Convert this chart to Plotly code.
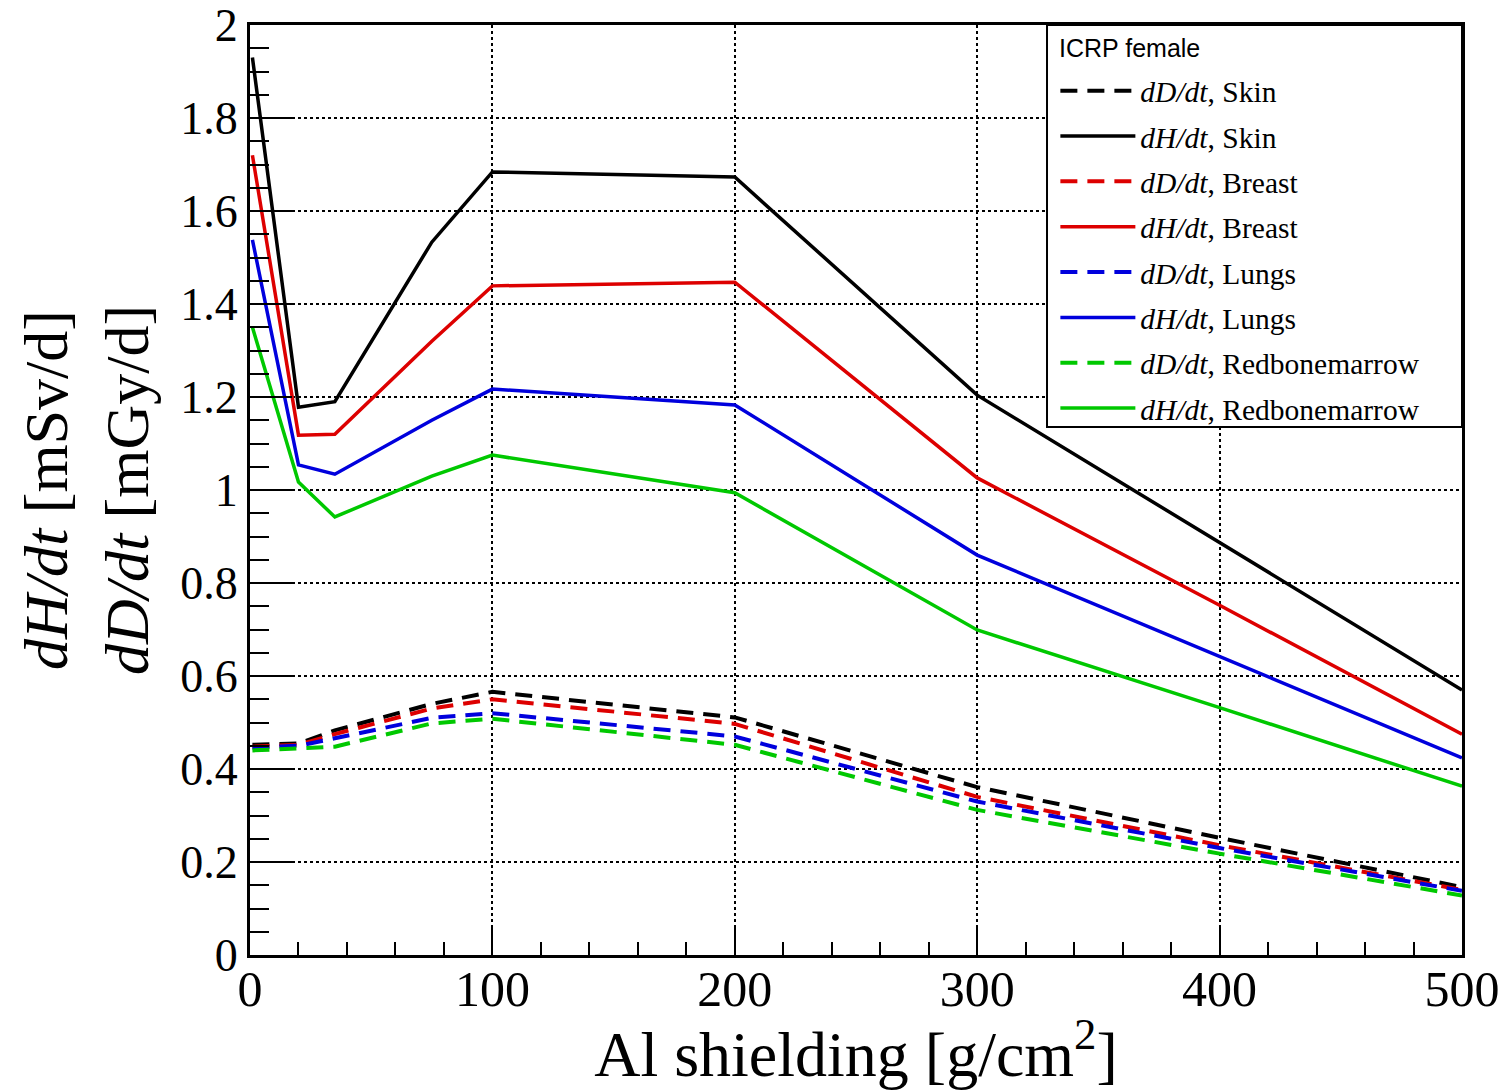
import plotly.graph_objects as go

x_al = [1, 20, 35, 75, 100, 200, 300, 400, 500]

dD_skin = [0.452, 0.455, 0.483, 0.540, 0.566, 0.511, 0.361, 0.252, 0.146]
dH_skin = [1.930, 1.178, 1.190, 1.533, 1.684, 1.673, 1.204, 0.888, 0.570]
dD_breast = [0.448, 0.452, 0.475, 0.530, 0.550, 0.497, 0.340, 0.236, 0.140]
dH_breast = [1.720, 1.118, 1.120, 1.320, 1.439, 1.447, 1.026, 0.752, 0.475]
dD_lungs = [0.446, 0.450, 0.466, 0.510, 0.520, 0.470, 0.330, 0.230, 0.138]
dH_lungs = [1.538, 1.054, 1.034, 1.150, 1.217, 1.183, 0.860, 0.643, 0.424]
dD_rbm = [0.440, 0.445, 0.448, 0.498, 0.508, 0.452, 0.312, 0.218, 0.128]
dH_rbm = [1.350, 1.017, 0.942, 1.030, 1.075, 0.994, 0.699, 0.532, 0.363]

series = [
    ("<i>dD/dt</i>, Skin", dD_skin, "black", True),
    ("<i>dH/dt</i>, Skin", dH_skin, "black", False),
    ("<i>dD/dt</i>, Breast", dD_breast, "#dd0000", True),
    ("<i>dH/dt</i>, Breast", dH_breast, "#dd0000", False),
    ("<i>dD/dt</i>, Lungs", dD_lungs, "#0000dd", True),
    ("<i>dH/dt</i>, Lungs", dH_lungs, "#0000dd", False),
    ("<i>dD/dt</i>, Redbonemarrow", dD_rbm, "#00c800", True),
    ("<i>dH/dt</i>, Redbonemarrow", dH_rbm, "#00c800", False),
]

fig = go.Figure()
for i, (name, vals, col, dashed) in enumerate(series):
    fig.add_trace(go.Scatter(
        x=x_al, y=vals, mode="lines", name=name, legendgroup=f"g{i}",
        line=dict(color=col, width=4 if dashed else 3.5,
                  dash="17px,10px" if dashed else "solid"),
    ))

serif = "Liberation Serif"

# legend frame and title
fig.add_shape(type="rect", xref="paper", yref="paper",
              x0=0.6576, x1=1.0, y0=0.5677, y1=1.0,
              line=dict(color="black", width=2), fillcolor="white", layer="above")
fig.add_annotation(text="ICRP female", xref="paper", yref="paper",
                   x=0.666, y=0.975, xanchor="left", yanchor="middle", showarrow=False,
                   font=dict(family="Liberation Sans", size=25, color="black"))

fig.update_layout(
    width=1504, height=1090,
    margin=dict(l=250, r=42, t=25, b=135),
    plot_bgcolor="white", paper_bgcolor="white",
    font=dict(family=serif, color="black"),
    showlegend=True,
    legend=dict(
        x=0.6645, y=0.957, xanchor="left", yanchor="top",
        borderwidth=0, bgcolor="rgba(0,0,0,0)",
        font=dict(family=serif, size=29.5, color="black"),
        tracegroupgap=4, traceorder="grouped",
        itemwidth=75,
    ),
)
fig.update_xaxes(
    range=[0, 500], dtick=100, tick0=0, automargin=False,
    showline=True, linecolor="black", linewidth=3, mirror=True,
    ticks="inside", ticklen=30, tickwidth=2, tickcolor="black",
    minor=dict(ticks="inside", ticklen=13, tickwidth=2, tickcolor="black", dtick=20, showgrid=False),
    showgrid=True, gridcolor="black", gridwidth=2, griddash="dot",
    tickfont=dict(family=serif, size=50),
    ticklabelstandoff=-12,
    title=dict(text="Al shielding [g/cm<sup>2</sup>]", font=dict(family=serif, size=64), standoff=10),
    zeroline=False,
)
fig.update_yaxes(
    range=[0, 2], dtick=0.2, tick0=0, automargin=False,
    showline=True, linecolor="black", linewidth=3, mirror=True,
    ticks="inside", ticklen=42, tickwidth=2, tickcolor="black",
    minor=dict(ticks="inside", ticklen=19, tickwidth=2, tickcolor="black", dtick=0.05, showgrid=False),
    showgrid=True, gridcolor="black", gridwidth=2, griddash="dot",
    tickfont=dict(family=serif, size=46),
    tickformat="~g",
    title=dict(text="<i>dH/dt</i> [mSv/d]<br><i>dD/dt</i> [mGy/d]", font=dict(family=serif, size=62), standoff=12),
    zeroline=False,
)

fig.write_html("out.html")
